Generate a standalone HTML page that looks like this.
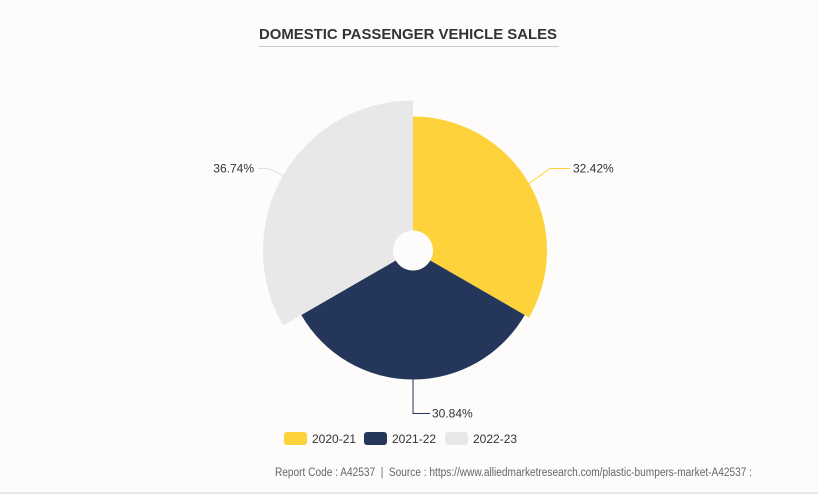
<!DOCTYPE html>
<html><head><meta charset="utf-8"><style>
html,body{margin:0;padding:0;background:#fdfcfb;}
svg{display:block;font-family:"Liberation Sans",Arial,sans-serif;}
</style></head><body>
<svg width="818" height="494" viewBox="0 0 818 494" xmlns="http://www.w3.org/2000/svg">
<rect width="818" height="494" fill="#fdfcfb"/>
<text x="259" y="39" font-size="15" font-weight="bold" fill="#333" textLength="298" lengthAdjust="spacingAndGlyphs">DOMESTIC PASSENGER VEHICLE SALES</text>
<line x1="259" y1="46.5" x2="559" y2="46.5" stroke="#ccc" stroke-width="1"/>
<path d="M413,230.5 L413,116.5 A134,134 0 0 1 529.05,317.5 L430.32,260.5 A20,20 0 0 0 413,230.5Z" fill="#fed23b"/>
<path d="M430.32,260.5 L524.72,315 A129,129 0 0 1 301.28,315 L395.68,260.5 A20,20 0 0 0 430.32,260.5Z" fill="#243659"/>
<path d="M395.68,260.5 L283.1,325.5 A150,150 0 0 1 413,100.5 L413,230.5 A20,20 0 0 0 395.68,260.5Z" fill="#e8e8e8"/>
<polyline points="529,183.5 550,168.5 570,168.5" fill="none" stroke="#fed23b" stroke-width="1"/>
<polyline points="413,379.5 413,413.5 430,413.5" fill="none" stroke="#243659" stroke-width="1"/>
<polyline points="283,175.5 268,168.5 258,168.5" fill="none" stroke="#e0e0e0" stroke-width="1"/>
<text x="573" y="172.5" font-size="12" fill="#333">32.42%</text>
<text x="432" y="417.5" font-size="12" fill="#333">30.84%</text>
<text x="254" y="172.5" font-size="12" fill="#333" text-anchor="end">36.74%</text>
<rect x="284" y="432" width="23" height="13" rx="3" fill="#fed23b"/>
<text x="312" y="443" font-size="12" fill="#333">2020-21</text>
<rect x="364" y="432" width="23" height="13" rx="3" fill="#243659"/>
<text x="392" y="443" font-size="12" fill="#333">2021-22</text>
<rect x="445" y="432" width="23" height="13" rx="3" fill="#e8e8e8"/>
<text x="473" y="443" font-size="12" fill="#333">2022-23</text>
<text x="275" y="476" font-size="11.5" fill="#666" textLength="477" lengthAdjust="spacingAndGlyphs">Report Code : A42537&#160;&#160;|&#160;&#160;Source : https://www.alliedmarketresearch.com/plastic-bumpers-market-A42537 :</text>
<line x1="0" y1="493" x2="818" y2="493" stroke="#e6e6e6" stroke-width="2"/>
</svg>
</body></html>
